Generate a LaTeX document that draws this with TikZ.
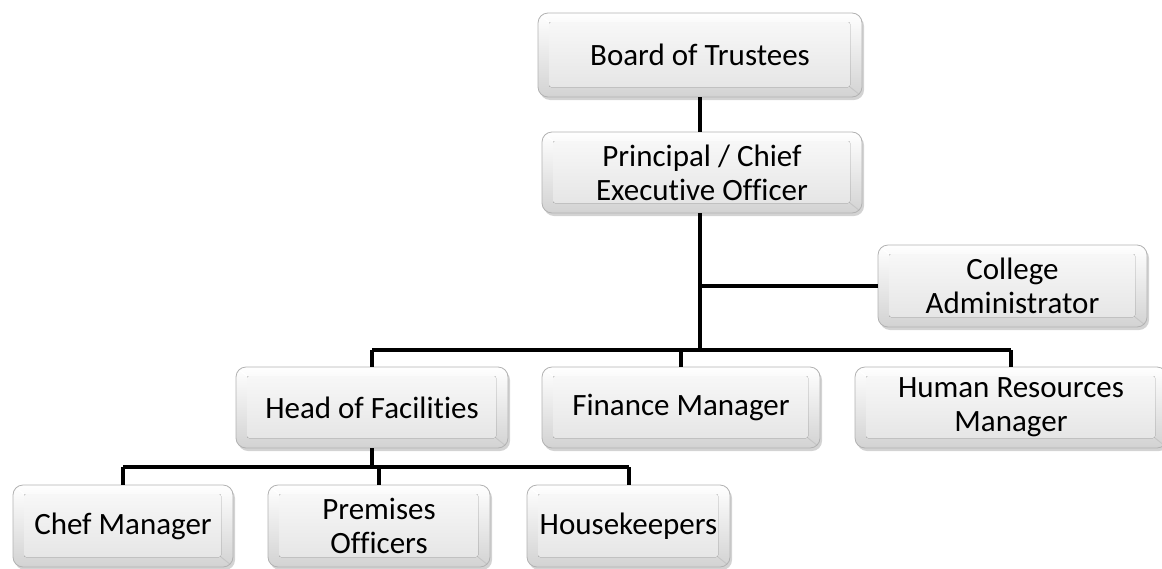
\documentclass[tikz,border=0pt]{standalone}
\usepackage{fontspec}
\setmainfont{Carlito}[Ligatures=NoCommon]
\usetikzlibrary{shadows}
\tikzset{
  orgbox/.style={rounded corners=10pt, draw=gray!60, line width=0.8pt,
    top color=white, bottom color=gray!35,
    drop shadow={opacity=0.35, shadow xshift=2pt, shadow yshift=-3pt},
    path picture={
      \fill[top color=gray!4, bottom color=gray!22, rounded corners=2pt]
        ([shift={(11pt,-9pt)}]path picture bounding box.north west) rectangle
        ([shift={(-12pt,10pt)}]path picture bounding box.south east);
      \draw[white, line width=1.2pt]
        ([shift={(2pt,-2pt)}]path picture bounding box.north west) --
        ([shift={(11pt,-9pt)}]path picture bounding box.north west);
      \draw[gray!45, line width=1pt]
        ([shift={(-2pt,2pt)}]path picture bounding box.south east) --
        ([shift={(-12pt,10pt)}]path picture bounding box.south east);
    },
    align=center, inner sep=0pt, minimum height=82pt,
    font=\fontsize{31}{34}\selectfont},
  link/.style={line width=4.5pt, black},
  thinlink/.style={line width=4pt, black}
}
\begin{document}
\begin{tikzpicture}[x=1pt,y=-1pt]
\path[use as bounding box, clip] (0,0) rectangle (1162,568);
% nodes
\node[orgbox, minimum width=324pt, minimum height=84pt] (board) at (700,55) {Board of Trustees};
\node[orgbox, minimum width=320pt, minimum height=81pt] (principal) at (702,172.5) {Principal / Chief\\Executive Officer};
\node[orgbox, minimum width=269pt] (college) at (1012.5,286) {College\\Administrator};
\node[orgbox, minimum width=272pt, minimum height=81pt] (head) at (372,407.5) {Head of Facilities};
\node[orgbox, minimum width=278pt, minimum height=81pt] (finance) at (681,407.5) {Finance Manager};
\node[orgbox, minimum width=312pt, minimum height=81pt] (hr) at (1011,407.5) {Human Resources\\Manager};
\node[orgbox, minimum width=220pt] (chef) at (123,526) {Chef Manager};
\node[orgbox, minimum width=222pt] (premises) at (379,526) {Premises\\Officers};
\node[orgbox, minimum width=203pt] (house) at (628.5,526) {Housekeepers};
% junction coordinates
\coordinate (bus) at (700,350);
\coordinate (lowbus) at (372,467);
% connectors
\draw[link] (board.south -| bus) -- (principal.north -| bus);
\draw[link] (principal.south -| bus) -- (bus);
\draw[thinlink] (bus |- college.west) -- (college.west);
\draw[thinlink] (head.north |- bus) -- (hr.north |- bus);
\draw[thinlink] (head.north |- bus) -- (head.north);
\draw[thinlink] (finance.north |- bus) -- (finance.north);
\draw[thinlink] (hr.north |- bus) -- (hr.north);
\draw[link] (head.south) -- (lowbus);
\draw[thinlink] (chef.north |- lowbus) -- (house.north |- lowbus);
\draw[thinlink] (chef.north |- lowbus) -- (chef.north);
\draw[thinlink] (premises.north |- lowbus) -- (premises.north);
\draw[thinlink] (house.north |- lowbus) -- (house.north);
\end{tikzpicture}
\end{document}
